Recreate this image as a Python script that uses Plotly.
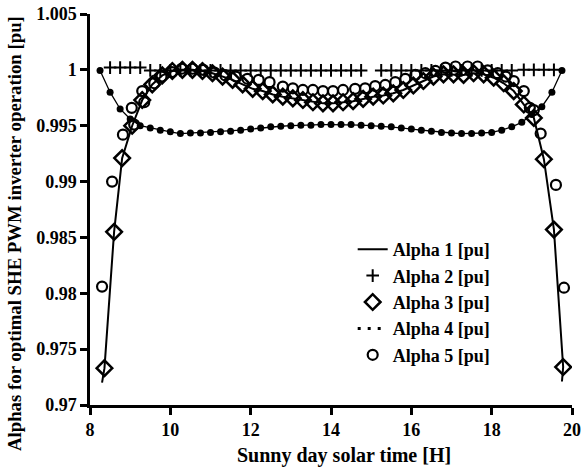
import plotly.graph_objects as go

# ---- data ----
t_a1 = [8.30, 8.36, 8.60, 8.80, 9.05, 9.30, 9.55, 9.80, 10.05, 10.30, 10.55, 10.80, 11.05,
        11.30, 11.55, 11.80, 12.05, 12.30, 12.55, 12.80, 13.05, 13.30, 13.55, 13.80, 14.05,
        14.30, 14.55, 14.80, 15.05, 15.30, 15.55, 15.80, 16.05, 16.30, 16.55, 16.80, 17.05,
        17.30, 17.55, 17.80, 18.05, 18.30, 18.55, 18.80, 19.05, 19.30, 19.55, 19.78, 19.75]
alpha1 = [0.9720, 0.9733, 0.9855, 0.9921, 0.9950, 0.9973, 0.9987, 0.9995, 0.9999, 1.0000,
          1.0000, 0.9999, 0.9997, 0.9994, 0.9991, 0.9987, 0.9983, 0.9981, 0.9978, 0.9976,
          0.99745, 0.9973, 0.9971, 0.9970, 0.9970, 0.9971, 0.9972, 0.9974, 0.9976, 0.9977,
          0.9979, 0.9982, 0.9986, 0.9990, 0.9994, 0.9996, 0.9996, 0.99955, 0.9997, 0.9996,
          0.9993, 0.9988, 0.9981, 0.9969, 0.9957, 0.9920, 0.9857, 0.9734, 0.9721]

t_a2 = [8.50, 8.75, 9.00, 9.25, 9.50, 9.75, 10.00, 10.25, 10.50, 10.75, 11.00, 11.25, 11.50,
        11.75, 12.00, 12.25, 12.50, 12.75, 13.00, 13.25, 13.50, 13.75, 14.00, 14.25, 14.50,
        14.75, 15.25, 15.50, 15.75, 16.00, 16.25, 16.50, 16.75, 17.00, 17.25, 17.50, 17.75,
        18.00, 18.25, 18.50, 18.80, 19.05, 19.30, 19.55]
alpha2 = [1.0002, 1.0002, 1.0002, 1.0002, 0.99995, 0.99995, 0.99995, 0.99995, 0.99995,
          0.99995, 0.99995, 0.99995, 0.99995, 0.99995, 0.99995, 0.99995, 0.99995, 0.99995,
          0.99995, 0.99995, 0.99995, 0.99995, 0.99995, 0.99995, 0.99995, 0.99995, 0.99995,
          0.99995, 0.99995, 0.99995, 0.99995, 0.99995, 0.99995, 0.99995, 0.99995, 0.99995,
          0.99995, 0.99995, 0.99995, 0.99995, 1.0000, 1.0000, 1.0000, 1.0000]

t_a3 = [8.36, 8.60, 8.80, 9.05, 9.30, 9.55, 9.80, 10.05, 10.30, 10.55, 10.80, 11.05, 11.30,
        11.55, 11.80, 12.05, 12.30, 12.55, 12.80, 13.05, 13.30, 13.55, 13.80, 14.05, 14.30,
        14.55, 14.80, 15.05, 15.30, 15.55, 15.80, 16.05, 16.30, 16.55, 16.80, 17.05, 17.30,
        17.55, 17.80, 18.05, 18.30, 18.55, 18.80, 19.05, 19.30, 19.55, 19.78]
alpha3 = [0.9733, 0.9855, 0.9921, 0.9950, 0.9973, 0.9987, 0.9995, 0.9999, 1.0000, 1.0000,
          0.9999, 0.9997, 0.9994, 0.9991, 0.9987, 0.9983, 0.9981, 0.9978, 0.9976, 0.99745,
          0.9973, 0.9971, 0.9970, 0.9970, 0.9971, 0.9972, 0.9974, 0.9976, 0.9977, 0.9979,
          0.9982, 0.9986, 0.9990, 0.9994, 0.9996, 0.9996, 0.99955, 0.9997, 0.9996, 0.9993,
          0.9988, 0.9981, 0.9969, 0.9957, 0.9920, 0.9857, 0.9734]

t_a4 = [8.25, 8.50, 8.75, 9.00, 9.25, 9.50, 9.75, 10.00, 10.25, 10.50, 10.75, 11.00, 11.25,
        11.50, 11.75, 12.00, 12.25, 12.50, 12.75, 13.00, 13.25, 13.50, 13.75, 14.00, 14.25,
        14.50, 14.75, 15.00, 15.25, 15.50, 15.75, 16.00, 16.25, 16.50, 16.75, 17.00, 17.25,
        17.50, 17.75, 18.00, 18.25, 18.50, 18.75, 19.00, 19.25, 19.50, 19.75]
alpha4 = [0.99995, 0.9980, 0.9965, 0.9956, 0.9950, 0.9948, 0.9946, 0.99445, 0.9943, 0.99435,
          0.99435, 0.9944, 0.99445, 0.9945, 0.9946, 0.9947, 0.9948, 0.9949, 0.99495, 0.9950,
          0.99505, 0.99505, 0.9951, 0.9951, 0.9951, 0.9951, 0.99505, 0.9950, 0.99495, 0.9949,
          0.9948, 0.9947, 0.9946, 0.9945, 0.9944, 0.99435, 0.9943, 0.9943, 0.99435, 0.9944,
          0.9946, 0.9949, 0.9953, 0.9960, 0.9967, 0.9980, 0.99995]

t_a5 = [8.30, 8.55, 8.82, 9.04, 9.10, 9.30, 9.35, 9.60, 9.78, 10.04, 10.28, 10.55, 10.82,
        11.10, 11.37, 11.63, 11.92, 12.20, 12.47, 12.80, 13.05, 13.30, 13.55, 13.80, 14.05,
        14.30, 14.60, 14.85, 15.10, 15.35, 15.60, 15.85, 16.10, 16.35, 16.60, 16.85, 17.10,
        17.40, 17.65, 17.90, 18.15, 18.35, 18.55, 18.80, 18.95, 19.05, 19.22, 19.60, 19.80]
alpha5 = [0.9806, 0.9900, 0.9942, 0.9966, 0.9951, 0.9981, 0.9971, 0.9988, 0.9994, 0.9998,
          1.0001, 1.0001, 1.0000, 0.99975, 0.9995, 0.9994, 0.9992, 0.9991, 0.9989, 0.9985,
          0.99835, 0.9982, 0.9982, 0.9981, 0.9981, 0.9982, 0.9983, 0.99835, 0.99855, 0.99865,
          0.9989, 0.9992, 0.99955, 0.9997, 0.9999, 1.0002, 1.0003, 1.0003, 1.0003, 0.99995,
          0.9997, 0.9994, 0.9990, 0.9981, 0.9966, 0.9964, 0.9943, 0.9897, 0.9805]

x_ticks = [8, 10, 12, 14, 16, 18, 20]
y_ticks = [0.97, 0.975, 0.98, 0.985, 0.99, 0.995, 1.0, 1.005]
y_tick_text = ["0.97", "0.975", "0.98", "0.985", "0.99", "0.995", "1", "1.005"]
x_title = "Sunny day solar time [H]"
y_title = "Alphas for optimal SHE PWM inverter operation [pu]"

FONT = "Liberation Serif"
BLACK = "#000000"

fig = go.Figure()

fig.add_trace(go.Scatter(x=t_a1, y=alpha1, mode="lines", name="<b>Alpha 1 [pu]</b>",
                         line=dict(color=BLACK, width=2)))
fig.add_trace(go.Scatter(x=t_a2, y=alpha2, mode="markers", name="<b>Alpha 2 [pu]</b>",
                         marker=dict(symbol="cross-thin", size=9, color=BLACK,
                                     line=dict(color=BLACK, width=2))))
fig.add_trace(go.Scatter(x=t_a3, y=alpha3, mode="markers", name="<b>Alpha 3 [pu]</b>",
                         marker=dict(symbol="diamond-open", size=12, color=BLACK,
                                     line=dict(color=BLACK, width=2.5))))
# Alpha 4 data: dots joined by a thin line (legend shows a dotted line)
fig.add_trace(go.Scatter(x=t_a4, y=alpha4, mode="lines+markers", showlegend=False,
                         line=dict(color=BLACK, width=1.3),
                         marker=dict(symbol="circle", size=7, color=BLACK)))
fig.add_trace(go.Scatter(x=[None], y=[None], mode="lines", name="<b>Alpha 4 [pu]</b>",
                         line=dict(color=BLACK, width=3, dash="3px,7px")))
fig.add_trace(go.Scatter(x=t_a5, y=alpha5, mode="markers", name="<b>Alpha 5 [pu]</b>",
                         marker=dict(symbol="circle-open", size=10, color=BLACK,
                                     line=dict(color=BLACK, width=2.2))))

axis_common = dict(showline=True, linecolor=BLACK, linewidth=2.5, ticks="outside",
                   ticklen=7, tickwidth=2.5, tickcolor=BLACK, showgrid=False,
                   zeroline=False, mirror=False, automargin=False,
                   tickfont=dict(family=FONT, size=18, color=BLACK))

fig.update_layout(
    width=586, height=470,
    margin=dict(l=90, r=14, t=14, b=65),
    paper_bgcolor="white", plot_bgcolor="white",
    font=dict(family=FONT, size=18, color=BLACK),
    xaxis=dict(range=[8, 20], tickvals=x_ticks,
               ticktext=[f"<b>{v}</b>" for v in x_ticks], **axis_common),
    yaxis=dict(range=[0.97, 1.005], tickvals=y_ticks,
               ticktext=[f"<b>{s}</b>" for s in y_tick_text], **axis_common),
    legend=dict(x=0.545, y=0.445, xanchor="left", yanchor="top",
                bgcolor="rgba(0,0,0,0)", borderwidth=0,
                font=dict(family=FONT, size=18, color=BLACK),
                tracegroupgap=0),
    showlegend=True,
)

# axis titles placed as annotations (the reference's titles are off-centre)
fig.add_annotation(text=f"<b>{x_title}</b>", xref="paper", yref="paper",
                   x=0.527, y=-0.128, xanchor="center", yanchor="middle",
                   showarrow=False, font=dict(family=FONT, size=20, color=BLACK))
fig.add_annotation(text=f"<b>{y_title}</b>", xref="paper", yref="paper",
                   x=-0.157, y=0.438, xanchor="center", yanchor="middle",
                   textangle=-90, showarrow=False,
                   font=dict(family=FONT, size=18.8, color=BLACK))

fig.write_html("out.html")
